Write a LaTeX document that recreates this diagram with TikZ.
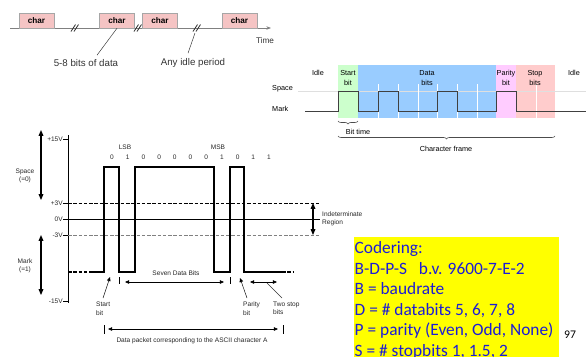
\documentclass[tikz,border=0pt]{standalone}
\usepackage{fontspec}
\setmainfont{Liberation Sans}
\newfontfamily\calibri{Carlito}
\usetikzlibrary{arrows.meta, positioning, calc, decorations.pathreplacing}
\definecolor{charpink}{RGB}{245,196,196}
\definecolor{startgreen}{RGB}{204,255,204}
\definecolor{datablue}{RGB}{153,204,255}
\definecolor{paritypink}{RGB}{255,204,255}
\definecolor{stoppink}{RGB}{255,204,204}
\definecolor{notetext}{RGB}{28,28,215}
\definecolor{notefill}{RGB}{255,255,0}

\begin{document}
\begin{tikzpicture}[x=0.03cm, y=-0.03cm,
    charbox/.style={rectangle, draw=gray!70, fill=charpink, minimum width=1.05cm, minimum height=0.45cm, inner sep=0pt, font=\fontsize{7}{8}\selectfont\bfseries},
    lbl/.style={font=\fontsize{8.3}{9}\selectfont, inner sep=0pt, text=black!80},
    framelbl/.style={font=\fontsize{6.2}{8.2}\selectfont, inner sep=0pt, align=center},
    tiny/.style={font=\fontsize{5.6}{7}\selectfont, inner sep=0pt, align=left, text=black!85},
    timeline/.style={draw=gray, line width=0.6pt},
    brk/.style={line width=0.7pt, black!80},
    leader/.style={line width=0.4pt, black!80},
    sigline/.style={line width=0.9pt},
    wave/.style={line width=0.8pt, black!75},
    dbl/.style={{Triangle[length=3.5pt,width=3pt]}-{Triangle[length=3.5pt,width=3pt]}, line width=0.5pt},
    bigdbl/.style={{Triangle[length=5pt,width=4pt]}-{Triangle[length=5pt,width=4pt]}, line width=0.9pt},
    pointer/.style={-{Triangle[length=3.5pt,width=3pt]}, line width=0.4pt},
    framebrace/.style={decorate, decoration={brace, mirror, amplitude=2.5pt}, line width=0.5pt, black!70}
]
    \useasboundingbox (0,0) rectangle (586,356);

    % === Top: characters on the time axis ===
    \coordinate (tstart) at (10,28);
    \coordinate (tend) at (271,28);
    \draw[timeline, -{Stealth[length=4pt]}] (tstart) -- (tend);
    \node[lbl, font=\fontsize{7}{8}\selectfont] (time) at (265,41) {Time};

    \node[charbox] (c1) at (36.5,20.5) {char};
    \node[charbox] (c2) at (117,20.5) {char};
    \node[charbox] (c3) at (160,20.5) {char};
    \node[charbox] (c4) at (239.5,20.5) {char};

    \foreach \bx in {75,138,197} {
        \draw[brk] (\bx-4,31.5) -- (\bx+0.5,24.5);
        \draw[brk] (\bx-1,31.5) -- (\bx+3.5,24.5);
    }

    \node[lbl] (bitsdata) at (86,63) {5-8 bits of data};
    \node[lbl] (idleper) at (193,63) {Any idle period};
    \coordinate (idlemark) at (195,33);
    \draw[leader] ($(bitsdata.north)+(11,-4)$) -- (c2.south);
    \draw[leader] ($(idleper.north)+(-5,-5)$) -- (idlemark);

    % === Right: character frame ===
    \fill[startgreen] (338,65) rectangle (358,118);
    \fill[datablue] (358,65) rectangle (496,118);
    \fill[paritypink] (496,65) rectangle (516,118);
    \fill[stoppink] (516,65) rectangle (555,118);
    \draw[gray!25, line width=0.4pt] (298,91) -- (586,91);
    \foreach \sx in {378,398,418,437,457,477,536}
        \draw[white, line width=0.5pt] (\sx,84) -- (\sx,118);

    \node[framelbl] (idle1) at (318,73) {Idle};
    \node[framelbl] (startb) at (348,78) {Start\\bit};
    \node[framelbl] (datab) at (427,78) {Data\\bits};
    \node[framelbl] (parityb) at (506,78) {Parity\\bit};
    \node[framelbl] (stopb) at (535,78) {Stop\\bits};
    \node[framelbl] (idle2) at (574,73) {Idle};
    \node[framelbl, anchor=west] (space) at (272,89) {Space};
    \node[framelbl, anchor=west] (mark) at (272,109) {Mark};

    \draw[wave] (305,111) -- (338,111) -- (338,91) -- (358,91) -- (358,111)
        -- (378,111) -- (378,91) -- (398,91) -- (398,111) -- (437,111) -- (437,91)
        -- (457,91) -- (457,111) -- (496,111) -- (496,91) -- (516,91) -- (516,111) -- (586,111);

    \coordinate (bt1) at (338,121);
    \coordinate (bt2) at (358,121);
    \draw[framebrace] (bt1) -- (bt2);
    \node[framelbl] (bittime) at (358,132) {Bit time};
    \coordinate (cf1) at (338,136);
    \coordinate (cf2) at (555,136);
    \draw[framebrace] (cf1) -- (cf2);
    \node[framelbl] (charframe) at (446,149) {Character frame};

    % === Bottom: RS-232 voltage levels ===
    \draw[line width=0.5pt] (68,135) -- (68,303);
    \foreach \ly/\lv in {139/+15V, 203/+3V, 219/0V, 235/-3V, 301/-15V} {
        \draw[line width=0.4pt] (63,\ly) -- (68,\ly);
        \node[tiny, anchor=east] at (63,\ly) {\lv};
    }
    \draw[dashed, line width=0.5pt, dash pattern=on 3pt off 1.5pt] (68,203) -- (320,203);
    \draw[line width=0.5pt] (68,219) -- (320,219);
    \draw[dashed, gray, line width=0.5pt, dash pattern=on 3pt off 1.5pt] (68,235) -- (320,235);

    \coordinate (sp1) at (41,130);
    \coordinate (sp2) at (41,200);
    \draw[bigdbl] (sp1) -- (sp2);
    \node[tiny, align=center] (spacelbl) at (25,176) {Space\\(=0)};
    \coordinate (mk1) at (41,235);
    \coordinate (mk2) at (41,295);
    \draw[bigdbl] (mk1) -- (mk2);
    \node[tiny, align=center] (marklbl) at (25,266) {Mark\\(=1)};
    \coordinate (ind1) at (313,203);
    \coordinate (ind2) at (313,235);
    \draw[bigdbl] (ind1) -- (ind2);
    \node[tiny, anchor=west] (indet) at (322,219) {Indeterminate\\Region};

    % signal for character A
    \draw[sigline, dash pattern=on 3pt off 1.5pt] (68,272) -- (90,272);
    \draw[sigline] (90,272) -- (104,272) -- (104,167) -- (119,167) -- (119,272)
        -- (135,272) -- (135,167) -- (214,167) -- (214,272) -- (230,272) -- (230,167)
        -- (244,167) -- (244,272) -- (282,272);
    \draw[sigline, dash pattern=on 3pt off 1.5pt] (282,272) -- (294,272);

    \foreach \b [count=\i from 0] in {0,1,0,0,0,0,0,1,0,1,1}
        \node[tiny] (bit\i) at (112+15.7*\i,157) {\b};
    \node[tiny] (lsb) at (125,147) {LSB};
    \node[tiny] (msb) at (218,147) {MSB};

    % annotations below the signal
    \node[tiny, anchor=north west] (startlbl) at (96,302) {Start\\bit};
    \coordinate (starttip) at (110,277);
    \draw[pointer] ($(startlbl.north west)+(7,-4)$) -- (starttip);

    \draw[line width=0.4pt] (119,277) -- (119,284);
    \draw[line width=0.4pt] (230,277) -- (230,284);
    \coordinate (sd1) at (125,282);
    \coordinate (sd2) at (224,282);
    \draw[dbl] (sd1) -- (sd2);
    \node[tiny] (sevenbits) at (176,273) {Seven Data Bits};

    \node[tiny, anchor=north west] (paritylbl) at (243,302) {Parity\\bit};
    \coordinate (paritytip) at (240,278);
    \draw[pointer] ($(paritylbl.north west)+(4,-4)$) -- (paritytip);

    \coordinate (st1) at (250,282);
    \coordinate (st2) at (277,282);
    \draw[dbl] (st1) -- (st2);
    \node[tiny, anchor=north west] (stoplbl) at (273,302) {Two stop\\bits};
    \coordinate (stopfoot) at (267,283);
    \draw[leader] ($(stoplbl.north west)+(9,-4)$) -- (stopfoot);

    \draw[line width=0.4pt] (104,325) -- (104,334);
    \draw[line width=0.4pt] (283,325) -- (283,334);
    \coordinate (dp1) at (108,329);
    \coordinate (dp2) at (278,329);
    \draw[dbl] (dp1) -- (dp2);
    \node[tiny] (packet) at (192,341) {Data packet corresponding to the ASCII character A};

    % === Note ===
    \node[rectangle, fill=notefill, anchor=north west, minimum width=6.15cm, minimum height=3.8cm, inner sep=0pt] (note) at (354,237) {};
    \node[anchor=north west, align=left, inner sep=0pt, text=notetext, font=\calibri\fontsize{14.8}{17.5}\selectfont] (notetxt) at (354.5,241.5)
        {Codering:\\B-D-P-S\ \ \ b.v. 9600-7-E-2\\B = baudrate\\D = \# databits 5, 6, 7, 8\\P = parity (Even, Odd, None)\\S = \# stopbits 1, 1.5, 2};
    \node[font=\calibri\fontsize{10}{12}\selectfont, inner sep=0pt] (pagenr) at (570,335) {97};

\end{tikzpicture}
\end{document}
